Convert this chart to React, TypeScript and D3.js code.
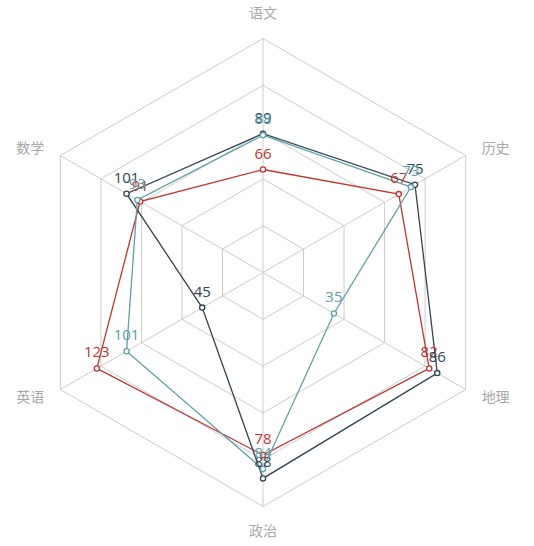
import { useEffect, useRef } from "react";
import * as d3 from "d3";

// indicators, counter-clockwise from the top
const subjects = ["语文", "数学", "英语", "政治", "地理", "历史"];
const maxValues = [150, 150, 150, 100, 100, 100];

const seriesNames = ["学生一", "学生二", "学生三"];
const seriesColors = ["#c23531", "#2f4554", "#61a0a8"];
const studentA = [66, 91, 123, 78, 82, 67];
const studentB = [89, 101, 45, 88, 86, 75];
const studentC = [88, 93, 101, 84, 35, 73];

const splitNumber = 5;

function App() {
  const ref = useRef<SVGSVGElement>(null);

  useEffect(() => {
    const width = 534;
    const height = 546;
    const cx = 263;
    const cy = 272.5;
    const radius = 234;

    const svg = d3.select(ref.current);
    svg.selectAll("*").remove();

    const angle = (i: number) => Math.PI / 2 + (i * 2 * Math.PI) / subjects.length;
    const scales = maxValues.map((m) => d3.scaleLinear().domain([0, m]).range([0, radius]));
    const point = (i: number, r: number): [number, number] => [
      cx + r * Math.cos(angle(i)),
      cy - r * Math.sin(angle(i)),
    ];

    const g = svg.append("g");

    // split rings
    const ringScale = d3.scaleLinear().domain([0, splitNumber]).range([0, radius]);
    const ringLine = d3.line<[number, number]>().curve(d3.curveLinearClosed);
    for (let k = 1; k <= splitNumber; k++) {
      g.append("path")
        .attr("d", ringLine(subjects.map((_, i) => point(i, ringScale(k)))))
        .attr("fill", "none")
        .attr("stroke", "#cccccc")
        .attr("stroke-width", 1);
    }

    // axis lines
    subjects.forEach((_, i) => {
      const [x, y] = point(i, radius);
      g.append("line")
        .attr("x1", cx)
        .attr("y1", cy)
        .attr("x2", x)
        .attr("y2", y)
        .attr("stroke", "#cccccc")
        .attr("stroke-width", 1);
    });

    // axis names
    subjects.forEach((name, i) => {
      const [x, y] = point(i, radius + 15);
      const c = Math.cos(angle(i));
      const s = Math.sin(angle(i));
      const side = Math.abs(c) > 0.01;
      const anchor = !side ? "middle" : c > 0 ? "start" : "end";
      const baseline = s > 0.9 ? "auto" : s < -0.9 ? "hanging" : "middle";
      g.append("text")
        .attr("x", side ? x + (c > 0 ? 3 : -3) : x)
        .attr("y", s > 0.9 ? y - 6 : s < -0.9 ? y + 2 : y + 1)
        .attr("text-anchor", anchor)
        .attr("dominant-baseline", baseline)
        .attr("fill", "#a8a8a8")
        .attr("font-size", 14)
        .attr("font-family", "'Noto Sans CJK SC', sans-serif")
        .text(name);
    });

    const allSeries = [studentA, studentB, studentC];
    const line = d3.line<number>()
      .x((d, i) => point(i, scales[i](d))[0])
      .y((d, i) => point(i, scales[i](d))[1])
      .curve(d3.curveLinearClosed);

    allSeries.forEach((values, si) => {
      const color = seriesColors[si];
      const sg = g.append("g").attr("class", seriesNames[si]);
      sg.append("path")
        .attr("d", line(values))
        .attr("fill", "none")
        .attr("stroke", color)
        .attr("stroke-width", 1.3);
      values.forEach((v, i) => {
        const [x, y] = point(i, scales[i](v));
        sg.append("circle")
          .attr("cx", x)
          .attr("cy", y)
          .attr("r", 2.6)
          .attr("fill", "#fff")
          .attr("stroke", color)
          .attr("stroke-width", 1.3);
      });
    });

    allSeries.forEach((values, si) => {
      values.forEach((v, i) => {
        const [x, y] = point(i, scales[i](v));
        g.append("text")
          .attr("x", x)
          .attr("y", y - 11)
          .attr("text-anchor", "middle")
          .attr("fill", seriesColors[si])
          .attr("font-size", 15)
          .attr("font-family", "'Open Sans', 'Noto Sans CJK SC', sans-serif")
          .text(v);
      });
    });

    svg.attr("width", width).attr("height", height);
  }, []);

  return (
    <svg
      ref={ref}
      width={534}
      height={546}
      style={{ position: "absolute", left: 0, top: 0, background: "#fff" }}
    />
  );
}

export default App;
